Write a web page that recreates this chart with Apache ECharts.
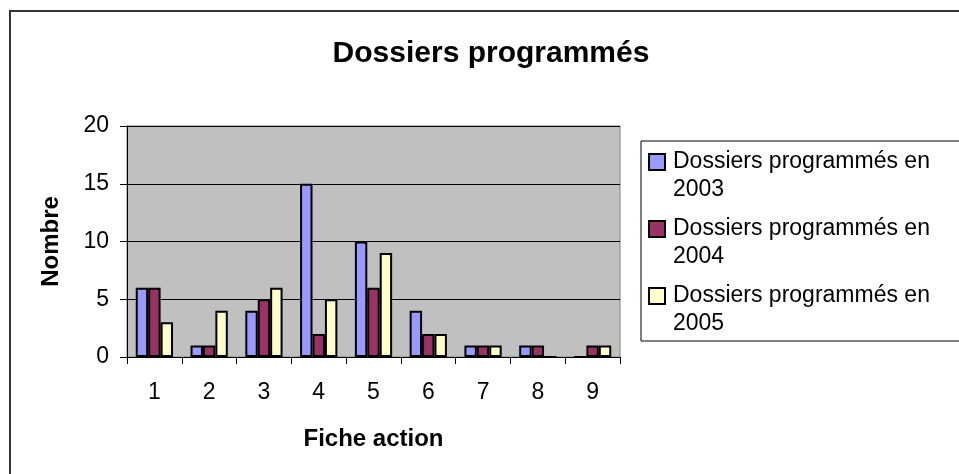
<!DOCTYPE html>
<html>
<head>
<meta charset="utf-8">
<script src="https://cdn.jsdelivr.net/npm/echarts@6/dist/echarts.min.js"></script>
<style>
  html, body { margin: 0; padding: 0; background: #fff; }
  #chart { width: 959px; height: 474px; }
</style>
</head>
<body>
<div id="chart"></div>
<script>
const categories = ['1', '2', '3', '4', '5', '6', '7', '8', '9'];
const seriesNames = ['Dossiers programmés en 2003', 'Dossiers programmés en 2004', 'Dossiers programmés en 2005'];
const values2003 = [6, 1, 4, 15, 10, 4, 1, 1, 0];
const values2004 = [6, 1, 5, 2, 6, 2, 1, 1, 1];
const values2005 = [3, 4, 6, 5, 9, 2, 1, 0, 1];
const colors = ['#9999FF', '#993366', '#FFFFCC'];

const font = '"Liberation Sans", Arial, sans-serif';
const chart = echarts.init(document.getElementById('chart'));

// square sitting on the first line of a two-line legend label
const legendIcon = 'path://M0,0L16,0L16,16L0,16ZM19,44';

chart.setOption({
  animation: false,
  backgroundColor: '#fff',
  textStyle: { fontFamily: font },
  title: {
    text: 'Dossiers programmés',
    left: 491,
    top: 39,
    padding: 0,
    textAlign: 'center',
    textStyle: { fontFamily: font, fontSize: 30, fontWeight: 'bold', color: '#000' }
  },
  graphic: [
    { type: 'rect', shape: { x: 10, y: 11, width: 1000, height: 500 }, style: { fill: 'none', stroke: '#333', lineWidth: 2 }, z: -1 },
    { type: 'rect', shape: { x: 641, y: 141, width: 400, height: 200 }, style: { fill: '#fff', stroke: '#000', lineWidth: 1 }, z: -1 }
  ],
  legend: {
    orient: 'vertical',
    left: 648,
    top: 148,
    padding: 0,
    itemGap: 11,
    itemWidth: 19,
    itemHeight: 44,
    icon: legendIcon,
    data: seriesNames,
    formatter: name => name.replace(' en ', ' en\n'),
    itemStyle: { borderColor: '#000', borderWidth: 2 },
    textStyle: { fontFamily: font, fontSize: 23, color: '#000', lineHeight: 28 }
  },
  grid: {
    left: 127, top: 126, width: 493, height: 231,
    show: true, backgroundColor: '#C0C0C0', borderColor: '#808080', borderWidth: 1
  },
  xAxis: {
    type: 'category',
    data: categories,
    name: 'Fiche action',
    nameLocation: 'middle',
    nameGap: 70,
    nameTextStyle: { fontFamily: font, fontSize: 24, fontWeight: 'bold', color: '#000' },
    axisLine: { lineStyle: { color: '#000', width: 1 } },
    axisTick: { show: true, length: 7, lineStyle: { color: '#000' } },
    axisLabel: { margin: 24, fontFamily: font, fontSize: 23, color: '#000' }
  },
  yAxis: {
    type: 'value',
    min: 0, max: 20, interval: 5,
    name: 'Nombre',
    nameLocation: 'middle',
    nameGap: 64,
    nameTextStyle: { fontFamily: font, fontSize: 24, fontWeight: 'bold', color: '#000' },
    axisLine: { show: true, lineStyle: { color: '#000', width: 1 } },
    axisTick: { show: true, length: 7, lineStyle: { color: '#000' } },
    axisLabel: { margin: 18, fontFamily: font, fontSize: 23, color: '#000' },
    splitLine: { lineStyle: { color: '#000', width: 1 } }
  },
  series: [values2003, values2004, values2005].map((vals, i) => ({
    name: seriesNames[i],
    type: 'bar',
    data: vals,
    barGap: '0%',
    barCategoryGap: '32%',
    itemStyle: { color: colors[i], borderColor: '#000', borderWidth: 2 }
  }))
});
</script>
</body>
</html>
